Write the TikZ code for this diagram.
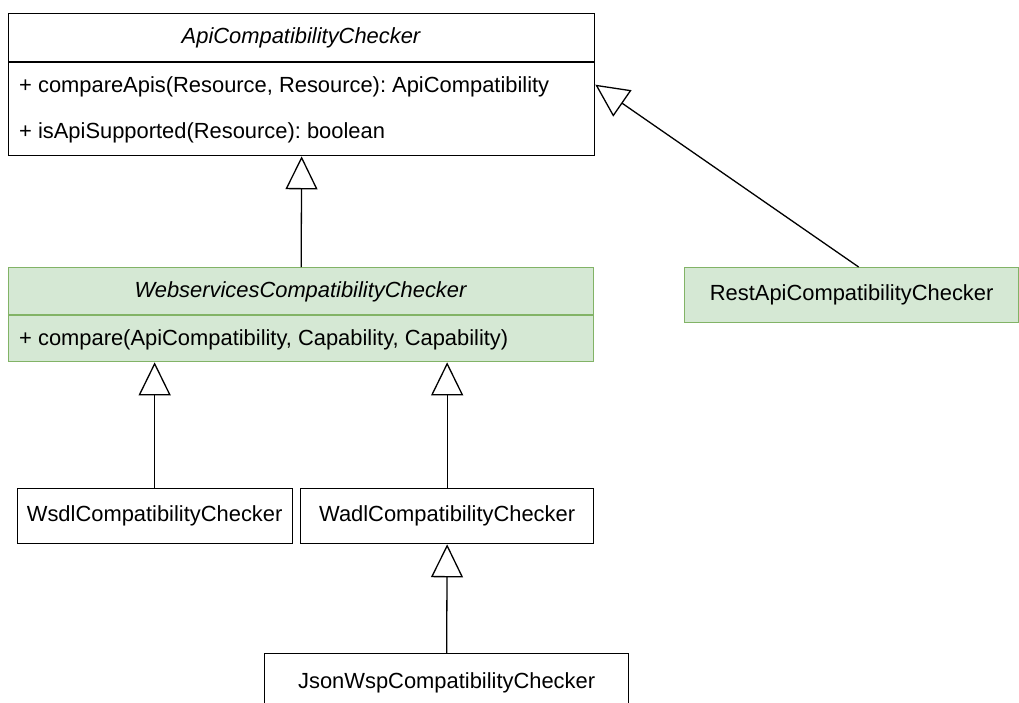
\documentclass[tikz,border=0pt]{standalone}
\usepackage{fontspec}
\setmainfont{Liberation Sans}
\usetikzlibrary{arrows.meta}
\definecolor{gfill}{HTML}{D5E8D4}
\definecolor{gdraw}{HTML}{82B366}
\frenchspacing
\tikzset{
  cls/.style={draw=black, fill=white, line width=1.3pt, rectangle, inner sep=0pt, anchor=north west},
  gcls/.style={cls, draw=gdraw, fill=gfill},
  txt/.style={inner sep=0pt, font=\fontsize{21.9}{26}\selectfont},
  mem/.style={txt, anchor=west},
  inh/.style={line width=1.3pt, -{Triangle[open, width=32pt, length=33pt, line width=1.3pt]}}
}
\begin{document}
\begin{tikzpicture}[x=1pt,y=-1pt]
\clip (0,0) rectangle (1019,702);
\fill[white] (0,0) rectangle (1019,702);
% ApiCompatibilityChecker
\node[cls, minimum width=586pt, minimum height=142pt] (api) at (8,13) {};
\draw[line width=1.3pt] (8,62) -- (594,62);
\node[txt] (apiname) at (301,38) {\itshape ApiCompatibilityChecker};
\node[mem] (apim1) at (19,87) {+ compareApis(Resource, Resource): ApiCompatibility};
\node[mem] (apim2) at (19,133) {+ isApiSupported(Resource): boolean};
% WebservicesCompatibilityChecker
\node[gcls, minimum width=585pt, minimum height=94pt] (web) at (8,267) {};
\draw[line width=1.3pt, gdraw] (8,315) -- (593,315);
\node[txt] (webname) at (300.5,291.5) {\itshape WebservicesCompatibilityChecker};
\node[mem] (webm1) at (19,340) {+ compare(ApiCompatibility, Capability, Capability)};
% RestApiCompatibilityChecker
\node[gcls, minimum width=334pt, minimum height=55pt] (rest) at (684,267) {};
\node[txt] at (rest.center) {RestApiCompatibilityChecker};
% Wsdl
\node[cls, minimum width=275pt, minimum height=55pt] (wsdl) at (16.5,488) {};
\node[txt] at (wsdl.center) {WsdlCompatibilityChecker};
% Wadl
\node[cls, minimum width=293pt, minimum height=55pt] (wadl) at (300,488) {};
\node[txt] at (wadl.center) {WadlCompatibilityChecker};
% JsonWsp
\node[cls, minimum width=364pt, minimum height=58pt] (json) at (264,653) {};
\node[txt] at (json.center) {JsonWspCompatibilityChecker};
% inheritance
\draw[inh] (web.north) -- (api.south);
\draw[inh] ([xshift=7pt]rest.north) -- (api.east);
\draw[inh] (wsdl.north) -- (wsdl.north |- web.south);
\draw[inh] (wadl.north) -- (wadl.north |- web.south);
\draw[inh] (json.north) -- (wadl.south);
\end{tikzpicture}
\end{document}
